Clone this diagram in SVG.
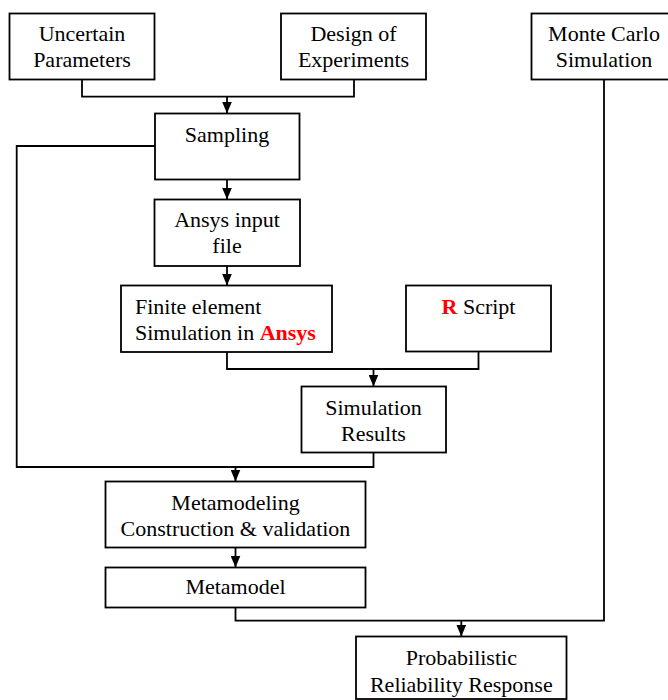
<svg xmlns="http://www.w3.org/2000/svg" width="668" height="700" viewBox="0 0 668 700">
<style>
rect.box{fill:#fff;stroke:#000;stroke-width:1.8}
text{font-family:"Liberation Serif","Times New Roman",serif;font-size:22px;fill:#000}
.c{text-anchor:middle}
.red{fill:#ff0000;font-weight:bold}
.conn path{fill:none;stroke:#000;stroke-width:1.8}
</style>
<defs>
<marker id="arr" markerUnits="userSpaceOnUse" markerWidth="12" markerHeight="10" viewBox="0 0 12 10" refX="12" refY="5" orient="auto">
<path d="M0,0 L12,5 L0,10 Z" fill="#000"/>
</marker>
</defs>
<rect width="668" height="700" fill="#fff"/>
<g id="uncertain">
<rect class="box" x="9.5" y="13.5" width="145" height="66"/>
<text class="c" x="82" y="41">Uncertain</text>
<text class="c" x="82" y="67">Parameters</text>
</g>
<g id="doe">
<rect class="box" x="281" y="13.5" width="145" height="66"/>
<text class="c" x="353.5" y="41">Design of</text>
<text class="c" x="353.5" y="67">Experiments</text>
</g>
<g id="montecarlo">
<rect class="box" x="531.5" y="13.5" width="145" height="66"/>
<text class="c" x="604" y="41">Monte Carlo</text>
<text class="c" x="604" y="67">Simulation</text>
</g>
<g id="sampling">
<rect class="box" x="155" y="113.5" width="144.5" height="66"/>
<text class="c" x="227" y="142">Sampling</text>
</g>
<g id="ansysinput">
<rect class="box" x="154.5" y="199.5" width="145.5" height="66.5"/>
<text class="c" x="227" y="227">Ansys input</text>
<text class="c" x="227" y="253">file</text>
</g>
<g id="fe">
<rect class="box" x="121" y="285.5" width="211" height="66.5"/>
<text x="135" y="313.5">Finite element</text>
<text x="135" y="339.5">Simulation in <tspan class="red">Ansys</tspan></text>
</g>
<g id="rscript">
<rect class="box" x="406" y="285.5" width="145" height="66"/>
<text class="c" x="478.5" y="314"><tspan class="red">R</tspan> Script</text>
</g>
<g id="simresults">
<rect class="box" x="301.5" y="386.5" width="144.5" height="66"/>
<text class="c" x="373.5" y="415">Simulation</text>
<text class="c" x="373.5" y="440.5">Results</text>
</g>
<g id="metamodeling">
<rect class="box" x="105.5" y="481.5" width="260" height="66"/>
<text class="c" x="235.5" y="509.5">Metamodeling</text>
<text class="c" x="235.5" y="535.5">Construction &amp; validation</text>
</g>
<g id="metamodel">
<rect class="box" x="105.5" y="567.5" width="260" height="40"/>
<text class="c" x="235.5" y="594">Metamodel</text>
</g>
<g id="probabilistic">
<rect class="box" x="356" y="636.5" width="210.5" height="62.5"/>
<text class="c" x="461.3" y="665">Probabilistic</text>
<text class="c" x="461.3" y="691.5">Reliability Response</text>
</g>
<g class="conn" id="connectors">
<path d="M82,79.5 V96.7 H354 V79.5"/>
<path d="M227,96.7 V113.5" marker-end="url(#arr)"/>
<path d="M227,179.5 V199.5" marker-end="url(#arr)"/>
<path d="M227,266 V285.5" marker-end="url(#arr)"/>
<path d="M227,352 V369 H478.5 V351.5"/>
<path d="M373.5,369 V386.5" marker-end="url(#arr)"/>
<path d="M155,146 H16.7 V467 H373.5 V452.5"/>
<path d="M235.5,467 V481.5" marker-end="url(#arr)"/>
<path d="M235.5,547.5 V567.5" marker-end="url(#arr)"/>
<path d="M235.5,607.5 V620.7 H604 V79.5"/>
<path d="M461.3,620.7 V636.5" marker-end="url(#arr)"/>
</g>
</svg>
